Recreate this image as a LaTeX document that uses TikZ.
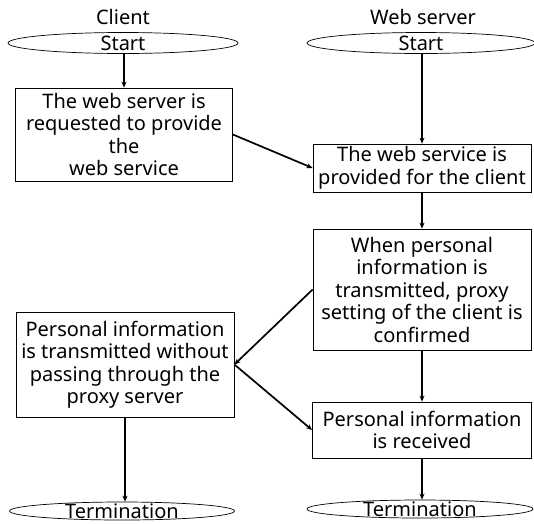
\documentclass[tikz,border=0pt]{standalone}
\usepackage{fontspec}
\setmainfont{Noto Sans}
\usetikzlibrary{shapes.geometric,arrows.meta}
\begin{document}
\begin{tikzpicture}[x=1pt,y=-1pt,
  every node/.style={font=\fontsize{20}{22.5}\selectfont},
  box/.style={draw, line width=0.8pt, align=center, inner sep=0pt},
  terminal/.style={draw, ellipse, line width=0.7pt, inner sep=0pt},
  arr/.style={line width=1.7pt, -{Stealth[length=6pt,width=5pt]}}]
\useasboundingbox (0,0) rectangle (534,523);

% lane titles
\node (client) at (123,17) {Client};
\node (server) at (423,17) {Web server};

% start terminals
\node[terminal, minimum width=230pt, minimum height=21pt] (s1) at (123,43) {};
\node (s1t) at (123,43) {Start};
\node[terminal, minimum width=228pt, minimum height=21pt] (s2) at (421,43) {};
\node (s2t) at (421,43) {Start};

% process boxes
\node[box, minimum width=217pt, minimum height=93pt] (b1) at (124,134.5)
  {The web server is\\requested to provide\\the\\web service};
\node[box, minimum width=218pt, minimum height=48pt] (b2) at (422,168)
  {The web service is\\provided for the client};
\node[box, minimum width=218pt, minimum height=121pt] (b3) at (422,289.5)
  {When personal\\information is\\transmitted, proxy\\setting of the client is\\confirmed};
\node[box, minimum width=218pt, minimum height=105pt] (b4) at (125,364.5)
  {Personal information\\is transmitted without\\passing through the\\proxy server};
\node[box, minimum width=219pt, minimum height=56pt] (b5) at (422,430)
  {Personal information\\is received};

% end terminals
\node[terminal, minimum width=225pt, minimum height=18pt] (t1) at (122,511) {};
\node (t1t) at (122,511) {Termination};
\node[terminal, minimum width=226pt, minimum height=18pt] (t2) at (420,509) {};
\node (t2t) at (420,509) {Termination};

% connectors
\draw[arr] (s1.south -| b1.north) -- (b1.north);
\draw[arr] (s2.south -| b2.north) -- (b2.north);
\draw[arr] (b1.east) -- (b2.west);
\draw[arr] (b2.south) -- (b2.south |- b3.north);
\draw[arr] (b3.west) -- (b4.east);
\draw[arr] (b4.east) -- (b5.west);
\draw[arr] (b3.south -| b5.north) -- (b5.north);
\draw[arr] (b4.south) -- (b4.south |- t1.north);
\draw[arr] (b5.south) -- (b5.south |- t2.north);
\end{tikzpicture}
\end{document}
